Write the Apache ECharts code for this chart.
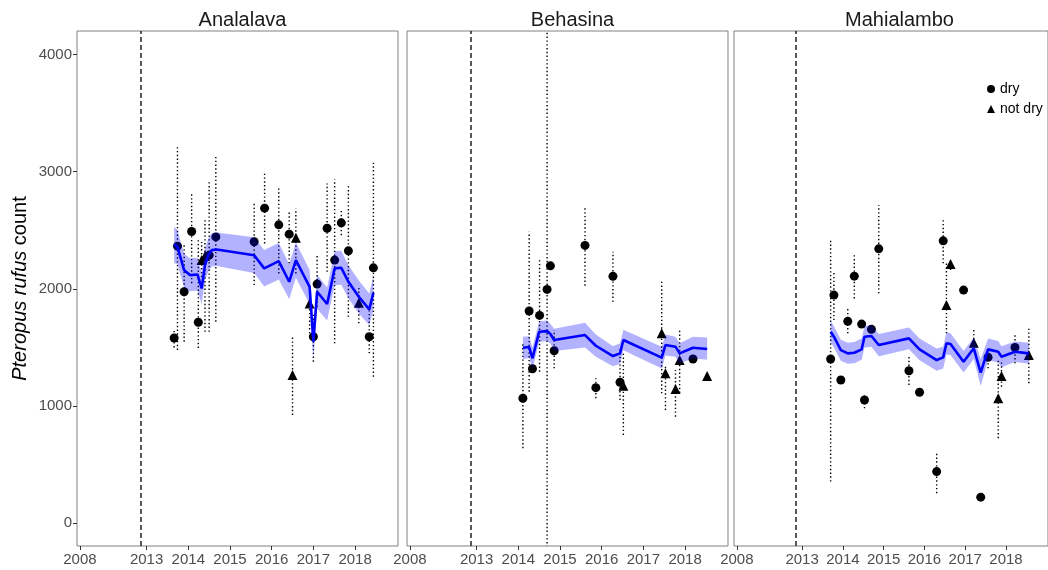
<!DOCTYPE html>
<html>
<head>
<meta charset="utf-8">
<script src="https://cdn.jsdelivr.net/npm/echarts@6/dist/echarts.min.js"></script>
<style>
html, body { margin: 0; padding: 0; background: #fff; }
#chart { width: 1048px; height: 570px; }
</style>
</head>
<body>
<div id="chart"></div>
<script>
const sites = ['Analalava', 'Behasina', 'Mahialambo']
const yearTicks = [2011.40, 2013, 2014, 2015, 2016, 2017, 2018]
const yearLabels = ['2008', '2013', '2014', '2015', '2016', '2017', '2018']
const countTicks = [0, 1000, 2000, 3000, 4000]
const cutoffDate = 2012.85

// Analalava
const anaDates = [2013.66, 2013.74, 2013.90, 2014.08, 2014.24, 2014.32, 2014.40, 2014.50, 2014.66, 2015.58, 2015.83, 2016.17, 2016.42, 2016.50, 2016.58, 2016.91, 2017.00, 2017.09, 2017.33, 2017.51, 2017.67, 2017.84, 2018.09, 2018.34, 2018.44]
const anaCounts = [1580, 2364, 1975, 2489, 1714, 2245, 2280, 2287, 2443, 2401, 2688, 2546, 2466, 1264, 2435, 1875, 1591, 2040, 2517, 2245, 2563, 2324, 1881, 1591, 2179]
const anaLow = [1500, 1478, 1548, 2048, 1495, 2100, 1633, 1633, 1719, 2032, 2387, 2131, 2217, 923, 2131, 1620, 1378, 1846, 2145, 1535, 2458, 1761, 1705, 1449, 1250]
const anaHigh = [1640, 3210, 2372, 2811, 2432, 2400, 2602, 2912, 3140, 2742, 2984, 2856, 2657, 1591, 2685, 1950, 1790, 2287, 2899, 2933, 2671, 2884, 2006, 1847, 3074]
const anaSeason = ['dry', 'dry', 'dry', 'dry', 'dry', 'not dry', 'not dry', 'dry', 'dry', 'dry', 'dry', 'dry', 'dry', 'not dry', 'not dry', 'not dry', 'dry', 'dry', 'dry', 'dry', 'dry', 'dry', 'not dry', 'dry', 'dry']
const anaFitDates = [2013.66, 2013.74, 2013.90, 2014.04, 2014.22, 2014.32, 2014.40, 2014.48, 2014.56, 2014.68, 2015.58, 2015.82, 2016.17, 2016.42, 2016.58, 2016.91, 2017.00, 2017.09, 2017.33, 2017.51, 2017.67, 2017.84, 2018.09, 2018.34, 2018.44]
const anaFit = [2379, 2358, 2159, 2117, 2122, 2003, 2202, 2287, 2330, 2336, 2287, 2174, 2236, 2060, 2245, 2017, 1548, 1975, 1870, 2174, 2179, 2060, 1932, 1824, 1966]
const anaFitLow = [2220, 2210, 2010, 1980, 1985, 1870, 2070, 2150, 2190, 2195, 2135, 2020, 2080, 1910, 2095, 1870, 1400, 1830, 1730, 2030, 2035, 1920, 1790, 1690, 1820]
const anaFitHigh = [2530, 2500, 2300, 2260, 2265, 2140, 2340, 2430, 2475, 2480, 2440, 2330, 2390, 2210, 2395, 2160, 1690, 2120, 2010, 2320, 2325, 2200, 2070, 1960, 2110]

// Behasina
const behDates = [2014.11, 2014.26, 2014.34, 2014.51, 2014.69, 2014.77, 2014.86, 2015.60, 2015.86, 2016.27, 2016.44, 2016.52, 2017.44, 2017.53, 2017.77, 2017.87, 2018.19, 2018.53]
const behCounts = [1066, 1810, 1318, 1773, 1995, 2196, 1471, 2370, 1156, 2106, 1202, 1173, 1620, 1279, 1145, 1392, 1401, 1256]
const behLow = [639, 1122, null, 1292, -400, null, 1321, 2026, 1066, 1889, 1051, 753, 1108, 966, 909, 1111, null, null]
const behHigh = [1540, 2486, null, 2259, 4500, null, 1648, 2694, 1236, 2316, 1506, 1450, 2074, 1350, 1307, 1648, null, null]
const behSeason = ['dry', 'dry', 'dry', 'dry', 'dry', 'dry', 'dry', 'dry', 'dry', 'dry', 'dry', 'not dry', 'not dry', 'not dry', 'not dry', 'not dry', 'dry', 'not dry']
const behFitDates = [2014.11, 2014.26, 2014.34, 2014.50, 2014.69, 2014.77, 2014.86, 2015.60, 2015.86, 2016.27, 2016.44, 2016.52, 2017.44, 2017.53, 2017.77, 2017.87, 2018.19, 2018.53]
const behFit = [1497, 1503, 1407, 1633, 1639, 1614, 1563, 1605, 1514, 1426, 1449, 1563, 1412, 1520, 1506, 1449, 1497, 1486]
const behFitLow = [1400, 1410, 1315, 1545, 1555, 1530, 1470, 1500, 1420, 1340, 1360, 1475, 1320, 1430, 1420, 1365, 1405, 1395]
const behFitHigh = [1590, 1595, 1500, 1720, 1730, 1700, 1660, 1710, 1610, 1510, 1535, 1650, 1505, 1610, 1590, 1535, 1590, 1585]

// Mahialambo
const mahDates = [2013.70, 2013.78, 2013.95, 2014.12, 2014.28, 2014.46, 2014.53, 2014.70, 2014.88, 2015.62, 2015.88, 2016.30, 2016.46, 2016.54, 2016.64, 2016.96, 2017.21, 2017.38, 2017.56, 2017.81, 2017.89, 2018.22, 2018.56]
const mahCounts = [1401, 1946, 1222, 1722, 2108, 1699, 1051, 1654, 2341, 1301, 1117, 440, 2409, 1861, 2211, 1989, 1540, 222, 1415, 1066, 1256, 1500, 1435]
const mahLow = [355, 1733, null, 1620, 1918, null, 980, null, 1961, 1179, null, 256, 2217, 1620, 2160, null, 1506, null, 1321, 725, 1165, 1364, 1194]
const mahHigh = [2430, 2145, null, 1833, 2287, null, 1108, null, 2714, 1435, null, 597, 2600, 2217, 2250, null, 1648, null, 1435, 1392, 1392, 1620, 1662]
const mahSeason = ['dry', 'dry', 'dry', 'dry', 'dry', 'dry', 'dry', 'dry', 'dry', 'dry', 'dry', 'dry', 'dry', 'not dry', 'not dry', 'dry', 'not dry', 'dry', 'dry', 'not dry', 'not dry', 'dry', 'not dry']
const mahFitDates = [2013.70, 2013.78, 2013.95, 2014.12, 2014.28, 2014.46, 2014.53, 2014.70, 2014.88, 2015.62, 2015.88, 2016.30, 2016.46, 2016.54, 2016.64, 2016.96, 2017.21, 2017.38, 2017.56, 2017.81, 2017.89, 2018.22, 2018.56]
const mahFit = [1633, 1591, 1477, 1449, 1454, 1483, 1591, 1597, 1520, 1577, 1483, 1392, 1415, 1535, 1529, 1378, 1492, 1284, 1483, 1463, 1420, 1463, 1449]
const mahFitLow = [1545, 1500, 1385, 1360, 1365, 1395, 1500, 1505, 1425, 1485, 1390, 1300, 1320, 1440, 1435, 1285, 1400, 1170, 1390, 1370, 1330, 1375, 1360]
const mahFitHigh = [1725, 1680, 1565, 1540, 1545, 1575, 1680, 1690, 1615, 1670, 1575, 1490, 1505, 1630, 1620, 1470, 1585, 1400, 1575, 1555, 1510, 1550, 1540]

const panels = [
  { dates: anaDates, counts: anaCounts, low: anaLow, high: anaHigh, season: anaSeason, fitDates: anaFitDates, fit: anaFit, fitLow: anaFitLow, fitHigh: anaFitHigh },
  { dates: behDates, counts: behCounts, low: behLow, high: behHigh, season: behSeason, fitDates: behFitDates, fit: behFit, fitLow: behFitLow, fitHigh: behFitHigh },
  { dates: mahDates, counts: mahCounts, low: mahLow, high: mahHigh, season: mahSeason, fitDates: mahFitDates, fit: mahFit, fitLow: mahFitLow, fitHigh: mahFitHigh }
]

const gridLefts = [77, 407, 734]
const gridWidth = 321
const xMin = 2011.33
const xMax = 2019.03

const chart = echarts.init(document.getElementById('chart'))

const tickLabel = (v) => {
  let best = 0
  yearTicks.forEach((t, k) => { if (Math.abs(t - v) < Math.abs(yearTicks[best] - v)) best = k })
  return yearLabels[best]
}

const series = []
panels.forEach((p, i) => {
  // dotted error bars
  series.push({
    type: 'custom',
    xAxisIndex: i,
    yAxisIndex: i,
    silent: true,
    clip: true,
    z: 2,
    data: p.dates.map((d, k) => [d, p.low[k], p.high[k]]).filter(r => r[1] != null),
    renderItem: (params, api) => {
      const a = api.coord([api.value(0), api.value(1)])
      const b = api.coord([api.value(0), api.value(2)])
      return {
        type: 'line',
        shape: { x1: a[0], y1: a[1], x2: b[0], y2: b[1] },
        style: { stroke: '#000', lineWidth: 1.4, lineDash: [1.4, 2.4] }
      }
    }
  })
  ;['dry', 'not dry'].forEach(s => {
    series.push({
      name: s,
      type: 'scatter',
      xAxisIndex: i,
      yAxisIndex: i,
      symbol: s === 'dry' ? 'circle' : 'triangle',
      symbolSize: s === 'dry' ? 9 : 10,
      itemStyle: { color: '#000', opacity: 1 },
      z: 3,
      data: p.dates.map((d, k) => [d, p.counts[k], p.season[k]]).filter(r => r[2] === s).map(r => [r[0], r[1]])
    })
  })
  // confidence band
  series.push({
    type: 'custom',
    xAxisIndex: i,
    yAxisIndex: i,
    silent: true,
    z: 4,
    data: p.fitDates.map((d, k) => [d, p.fitLow[k], p.fitHigh[k]]),
    renderItem: (params, api) => {
      if (params.dataIndex !== 0) return
      const upper = p.fitDates.map((d, k) => api.coord([d, p.fitHigh[k]]))
      const lower = p.fitDates.map((d, k) => api.coord([d, p.fitLow[k]])).reverse()
      return {
        type: 'polygon',
        shape: { points: upper.concat(lower) },
        style: { fill: 'rgba(0, 0, 255, 0.3)' }
      }
    }
  })
  series.push({
    type: 'line',
    xAxisIndex: i,
    yAxisIndex: i,
    showSymbol: false,
    silent: true,
    z: 5,
    lineStyle: { color: '#0000ff', width: 2.6 },
    data: p.fitDates.map((d, k) => [d, p.fit[k]]),
    markLine: {
      silent: true,
      symbol: 'none',
      label: { show: false },
      lineStyle: { color: '#222', width: 1.5, type: [5, 3] },
      data: [{ xAxis: cutoffDate }]
    }
  })
})

chart.setOption({
  animation: false,
  backgroundColor: '#fff',
  title: sites.map((s, i) => ({
    text: s,
    left: gridLefts[i] + gridWidth / 2,
    top: 5,
    textAlign: 'center',
    textStyle: { fontFamily: 'Liberation Sans', fontSize: 20, fontWeight: 'normal', color: '#1a1a1a' }
  })),
  legend: {
    orient: 'vertical',
    left: 982,
    top: 77,
    itemWidth: 8,
    itemHeight: 8,
    itemGap: 6,
    textStyle: { fontFamily: 'Liberation Sans', fontSize: 14, color: '#000' },
    data: [{ name: 'dry', icon: 'circle' }, { name: 'not dry', icon: 'triangle' }]
  },
  grid: gridLefts.map(l => ({
    left: l,
    top: 31,
    width: gridWidth,
    height: 515,
    show: true,
    borderColor: '#808080',
    borderWidth: 1
  })),
  xAxis: gridLefts.map((l, i) => ({
    type: 'value',
    gridIndex: i,
    min: xMin,
    max: xMax,
    axisLine: { show: false, onZero: false },
    splitLine: { show: false },
    axisTick: { show: true, customValues: yearTicks, length: 4, lineStyle: { color: '#333' } },
    axisLabel: {
      customValues: yearTicks,
      formatter: tickLabel,
      margin: 6,
      fontFamily: 'Liberation Sans',
      fontSize: 15,
      color: '#4d4d4d'
    }
  })),
  yAxis: gridLefts.map((l, i) => ({
    type: 'value',
    gridIndex: i,
    min: -195,
    max: 4200,
    axisLine: { show: false, onZero: false },
    splitLine: { show: false },
    axisTick: { show: i === 0, customValues: countTicks, length: 4, lineStyle: { color: '#333' } },
    axisLabel: {
      show: i === 0,
      customValues: countTicks,
      formatter: v => String(v),
      margin: 5,
      fontFamily: 'Liberation Sans',
      fontSize: 15,
      color: '#4d4d4d'
    },
    name: i === 0 ? '{i|Pteropus rufus} count' : '',
    nameLocation: 'middle',
    nameGap: 47,
    nameTextStyle: {
      fontFamily: 'Liberation Sans',
      fontSize: 20,
      color: '#000',
      rich: { i: { fontStyle: 'italic', fontSize: 20, fontFamily: 'Liberation Sans', color: '#000' } }
    }
  })),
  series: series
})
</script>
</body>
</html>
